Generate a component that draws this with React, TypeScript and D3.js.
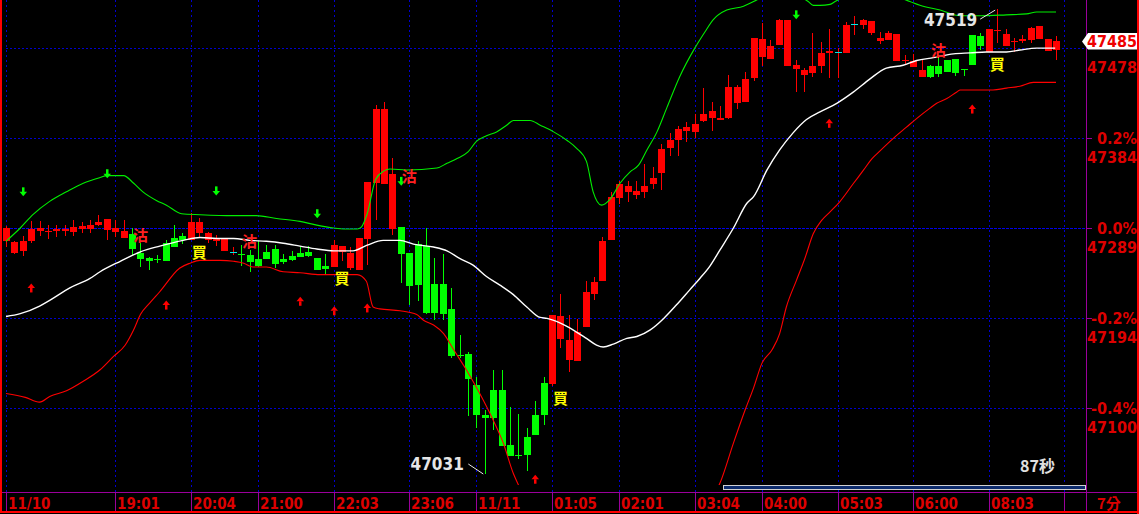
import React from "react";
import * as d3 from "d3";

// ---------- data ----------
const basePrice = 47289;
const pctTicks = [0.4, 0.2, 0, -0.2, -0.4];
const pctLabels = ["0.4%", "0.2%", "0.0%", "-0.2%", "-0.4%"];
const priceLabels = ["47478", "47384", "47289", "47194", "47100"];
const lastPriceLabel = "47485";

const timeTickIdx = [0, 13, 22, 30, 39, 48, 56, 65, 73, 82, 90, 99, 108, 117, 126];
const timeLabels = ["11/10", "19:01", "20:04", "21:00", "22:03", "23:06", "11/11", "01:05", "02:01", "03:04", "04:00", "05:03", "06:00", "08:03", ""];
const periodLabel = "7分";
const countdownLabel = "87秒";

const opens = [47275,47263,47265,47275,47286,47285,47286,47286,47285,47288,47288,47292,47287,47285,47279,47283,47263,47257,47256,47273,47278,47281,47276,47284,47276,47275,47265,47264,47262,47261,47256,47264,47267,47256,47260,47263,47264,47257,47249,47248,47264,47247,47245,47277,47336,47335,47288,47290,47263,47272,47270,47230,47230,47204,47156,47157,47124,47092,47119,47119,47061,47050,47069,47092,47126,47125,47172,47150,47149,47185,47220,47233,47276,47321,47327,47324,47327,47335,47347,47373,47381,47391,47390,47401,47405,47403,47405,47420,47421,47447,47469,47467,47481,47459,47456,47450,47452,47459,47473,47474,47473,47503,47502,47494,47486,47487,47464,47464,47458,47448,47459,47459,47466,47467,47456,47492,47491,47474,47496,47480,47484,47486,47487,47488,47475,47476];
const highs = [47291,47275,47281,47296,47296,47292,47292,47292,47297,47295,47297,47303,47298,47297,47297,47289,47273,47259,47261,47276,47292,47284,47305,47300,47285,47282,47278,47269,47271,47266,47275,47271,47271,47262,47265,47269,47270,47257,47262,47276,47270,47269,47278,47337,47418,47421,47363,47290,47263,47275,47289,47257,47262,47226,47177,47159,47132,47098,47140,47140,47101,47094,47079,47107,47132,47198,47220,47198,47193,47233,47238,47280,47327,47338,47338,47338,47356,47353,47377,47389,47396,47400,47409,47436,47421,47417,47450,47439,47453,47489,47504,47487,47509,47508,47466,47457,47494,47484,47498,47478,47505,47512,47509,47507,47495,47496,47493,47471,47472,47466,47460,47471,47466,47467,47456,47492,47494,47498,47519,47498,47489,47492,47500,47501,47488,47491];
const lows = [47269,47262,47260,47273,47281,47277,47280,47281,47281,47284,47284,47291,47276,47280,47279,47261,47248,47245,47252,47254,47269,47272,47276,47278,47273,47270,47265,47261,47249,47243,47248,47256,47247,47251,47254,47259,47258,47245,47240,47248,47254,47245,47245,47250,47297,47335,47282,47231,47208,47212,47199,47192,47192,47152,47152,47091,47079,47031,47077,47060,47049,47046,47034,47071,47082,47123,47163,47138,47149,47185,47213,47233,47276,47314,47316,47319,47321,47330,47329,47365,47365,47379,47384,47400,47391,47402,47404,47414,47421,47444,47459,47467,47481,47459,47432,47432,47448,47452,47447,47447,47473,47492,47498,47492,47482,47487,47464,47460,47458,47448,47447,47448,47453,47449,47449,47460,47476,47474,47483,47480,47474,47483,47483,47488,47475,47466];
const closes = [47289,47274,47275,47288,47289,47286,47288,47288,47290,47291,47292,47295,47298,47289,47286,47267,47256,47254,47255,47254,47269,47276,47295,47295,47284,47277,47278,47264,47261,47253,47249,47256,47251,47253,47255,47259,47260,47245,47246,47271,47270,47263,47278,47337,47414,47414,47346,47262,47228,47229,47200,47200,47199,47154,47154,47130,47092,47089,47089,47060,47049,47049,47050,47071,47092,47198,47196,47171,47180,47222,47232,47275,47322,47335,47333,47328,47333,47342,47372,47381,47393,47395,47398,47409,47412,47405,47437,47437,47446,47489,47488,47480,47508,47508,47460,47455,47459,47473,47475,47474,47502,47503,47508,47507,47489,47494,47493,47466,47465,47455,47448,47451,47453,47452,47455,47460,47480,47498,47497,47493,47486,47488,47499,47501,47488,47485];

// Bollinger bands: [candle index, price]
const upperBand: [number, number][] = [[0,47275],[1.7,47289],[3.2,47303],[5.2,47317],[7.2,47327],[9.2,47336],[11.2,47342],[12,47344],[14,47344],[15.2,47336],[16.3,47327],[17.9,47318],[19.1,47313],[20.9,47304],[23.1,47303],[27,47302],[29.8,47302],[32.2,47299],[35,47296],[37,47292],[39,47289],[40.2,47288],[41.8,47288],[42.3,47290],[43,47304],[44,47340],[45,47349],[45.7,47351],[47.7,47350],[51.3,47352],[52.5,47357],[53.7,47362],[55,47369],[56,47380],[57.2,47386],[58.4,47390],[59.6,47397],[60.4,47402],[62.4,47402],[63.6,47397],[65.2,47390],[66.8,47381],[67.9,47373],[69.1,47359],[69.9,47327],[70.9,47313],[71.9,47319],[73.1,47336],[74.3,47348],[75.3,47355],[76.3,47371],[77.5,47390],[78.7,47416],[80.2,47448],[82,47478],[83.2,47495],[84.2,47508],[85.8,47518],[87.8,47522],[89,47527],[91,47535],[93,47537],[95.5,47527],[96.1,47523],[96.9,47523],[98.1,47524],[98.7,47527],[100,47532],[103,47535],[106,47532],[107.6,47527],[108.8,47523],[111.2,47518],[113.6,47512],[116,47512],[119.1,47513],[121.5,47514],[122.7,47516],[125,47516]];
const midBand: [number, number][] = [[0,47196],[1.7,47199],[4,47207],[5.2,47213],[7.6,47226],[10,47236],[11.2,47243],[13.6,47254],[16,47264],[18.3,47270],[21.1,47276],[23.1,47279],[25.1,47278],[27.1,47278],[29,47276],[31,47275],[33,47273],[35,47270],[37,47267],[39,47265],[41.3,47265],[43,47271],[44.9,47276],[46.9,47276],[48.5,47272],[50.9,47269],[52.5,47265],[54,47257],[55.6,47250],[57.2,47238],[58.8,47229],[60.4,47219],[62,47206],[63.6,47195],[64.4,47194],[66,47189],[67.5,47182],[69.1,47173],[70.3,47166],[71.1,47164],[72.3,47167],[73.9,47173],[75.1,47175],[76.7,47182],[78.3,47194],[79.8,47208],[81.4,47224],[82.6,47236],[83.8,47249],[85,47266],[86.6,47289],[88.2,47315],[89,47322],[90.6,47350],[92.1,47371],[93.7,47389],[95.3,47403],[96.9,47411],[98.9,47420],[100.9,47432],[102.9,47446],[104.8,47457],[106.8,47460],[108.4,47465],[110.4,47468],[112.8,47472],[114.8,47473],[116.7,47474],[119.1,47474],[120.7,47476],[122.7,47478],[124.9,47478]];
const lowerBand: [number, number][] = [[0,47115],[2.3,47111],[4,47106],[5.2,47112],[7.2,47118],[9.2,47128],[11.2,47140],[12.8,47154],[14.2,47166],[15.2,47182],[16,47198],[17.1,47210],[18.3,47222],[20.7,47247],[21.9,47252],[23.1,47255],[25.5,47255],[27.1,47254],[28.3,47252],[29.4,47248],[31,47248],[33,47243],[35,47242],[37.4,47240],[41.8,47240],[42.9,47233],[43.7,47206],[44.5,47204],[46.9,47202],[48.9,47198],[49.7,47192],[50.9,47187],[52.1,47178],[53.3,47161],[54.8,47140],[56.4,47115],[58,47087],[59.2,47063],[60.4,47031],[60.9,47021],[62,47000],[66,46965],[72,46950],[78,46960],[83,46995],[85,47021],[86.6,47063],[88,47098],[89,47121],[90,47147],[91.2,47161],[92.1,47178],[92.9,47206],[94.1,47234],[95.1,47257],[96.1,47283],[97.1,47297],[98.1,47306],[99.2,47316],[100.9,47336],[102.1,47350],[103.1,47362],[103.8,47368],[105.6,47383],[107.2,47395],[108.4,47404],[110,47415],[110.8,47420],[112,47425],[113.2,47432],[113.6,47434],[117.5,47434],[119.1,47436],[120.7,47438],[122.3,47442],[125,47442]];

// signal markers: [candle index, price]
const sellArrows: [number, number][] = [[2,47327],[12,47346],[25,47328],[37,47304],[47,47338],[94,47513]];
const buyArrows: [number, number][] = [[3,47226],[19,47208],[35,47212],[39,47202],[43,47205],[63,47025],[98,47399],[115,47414]];
const buyMarks: [number, number][] = [[23,47264],[40,47236],[66,47110],[118,47461]];
const sellMarks: [number, number][] = [[16,47282],[29,47275],[48,47344],[111,47476]];

// ---------- style ----------
const RED = "#ff0000";
const GREEN = "#00ff00";
const CYAN = "#00e8e8";
const AXIS_RED = "#dd0000";
const PURPLE = "#9b009b";
const GRID = "#0000d0";
const FONT = '"DejaVu Sans Condensed", "DejaVu Sans", sans-serif';
const CJK = '"Noto Sans CJK TC", "Noto Sans CJK SC", sans-serif';

export default function App() {
  const W = 1139, H = 514;
  const plotL = 6, plotR = 1086, axisY = 492;
  const x = d3.scaleLinear().domain([0, opens.length - 1]).range([6, 1056]);
  const y = d3.scaleLinear().domain([basePrice * (1 - 0.004), basePrice * (1 + 0.004)]).range([408, 48]);
  const yPct = (p: number) => y(basePrice * (1 + p / 100));

  const line = d3.line<[number, number]>().x(d => x(d[0])).y(d => y(d[1])).curve(d3.curveMonotoneX);

  const lowIdx = d3.minIndex(lows);
  const highIdx = d3.maxIndex(highs);
  const xl = x(lowIdx), yl = y(lows[lowIdx]);
  const xh = x(highIdx), yh = y(highs[highIdx]);
  const lastY = y(closes[closes.length - 1]);

  return (
    <div style={{ position: "fixed", left: 0, top: 0, width: W, height: H, background: "#000" }}>
      <svg width={W} height={H} style={{ display: "block" }}>
        <defs>
          <clipPath id="plot">
            <rect x={2} y={0} width={plotR - 2} height={485} />
          </clipPath>
        </defs>
        <rect x={0} y={0} width={W} height={H} fill="#000" />

        {/* horizontal grid */}
        {pctTicks.map((p, k) => (
          <line key={"hg" + k} x1={plotL} x2={plotR} y1={Math.round(yPct(p)) + 0.5} y2={Math.round(yPct(p)) + 0.5}
            stroke={p === 0 ? "#0000e8" : GRID} strokeWidth={1} strokeDasharray={p === 0 ? "3,1" : "2,2"} />
        ))}
        {/* vertical grid */}
        {timeTickIdx.map((t, k) => (
          <line key={"vg" + k} x1={Math.round(x(t)) + 0.5} x2={Math.round(x(t)) + 0.5} y1={0} y2={axisY}
            stroke={GRID} strokeWidth={1} strokeDasharray="2,3" />
        ))}

        {/* candles */}
        <g clipPath="url(#plot)" shapeRendering="crispEdges">
          {opens.map((o, i) => {
            const c = closes[i];
            const col = c > o ? RED : c < o ? GREEN : CYAN;
            const cx = Math.round(x(i));
            const top = Math.round(y(Math.max(o, c)));
            const bot = Math.round(y(Math.min(o, c)));
            return (
              <g key={"c" + i}>
                <rect x={cx} y={Math.round(y(highs[i]))} width={1} height={Math.max(1, Math.round(y(lows[i])) - Math.round(y(highs[i])))}
                  fill={c === o ? RED : col} />
                <rect x={cx - 3} y={top} width={7} height={Math.max(1, bot - top)} fill={col} />
              </g>
            );
          })}
        </g>

        {/* bands */}
        <g clipPath="url(#plot)" fill="none">
          <path d={line(upperBand) || ""} stroke="#00ee00" strokeWidth={1.1} />
          <path d={line(midBand) || ""} stroke="#ffffff" strokeWidth={1.4} />
          <path d={line(lowerBand) || ""} stroke="#ff0000" strokeWidth={1.1} />
        </g>

        {/* arrows */}
        {sellArrows.map(([i, p], k) => {
          const cx = Math.round(x(i)), cy = y(p);
          return (
            <g key={"sa" + k} fill={GREEN}>
              <rect x={cx - 1} y={cy - 4.5} width={2.5} height={5} />
              <path d={`M${cx - 3.5},${cy} L${cx + 4},${cy} L${cx + 0.25},${cy + 4.5} Z`} />
            </g>
          );
        })}
        {buyArrows.map(([i, p], k) => {
          const cx = Math.round(x(i)), cy = y(p);
          return (
            <g key={"ba" + k} fill={RED}>
              <rect x={cx - 1} y={cy} width={2.5} height={4.5} />
              <path d={`M${cx - 3.5},${cy} L${cx + 4},${cy} L${cx + 0.25},${cy - 4.5} Z`} />
            </g>
          );
        })}

        {/* buy / sell marks */}
        {buyMarks.map(([i, p], k) => (
          <text key={"bm" + k} x={x(i)} y={y(p) + 6} textAnchor="middle" fontFamily={CJK} fontWeight="bold"
            fontSize={15} fill="#ffff00">買</text>
        ))}
        {sellMarks.map(([i, p], k) => (
          <text key={"sm" + k} x={x(i)} y={y(p) + 6} textAnchor="middle" fontFamily={CJK} fontWeight="bold"
            fontSize={15} fill="#ff2020">沽</text>
        ))}

        {/* high / low annotations */}
        <line x1={xl - 16.5} y1={yl - 9.5} x2={xl - 1.5} y2={yl + 0.5} stroke="#e8e8e8" strokeWidth={1} />
        <text x={xl - 21} y={yl - 4} textAnchor="end" fontFamily={FONT} fontWeight="bold" fontSize={17} fill="#e6e6e6">
          {String(lows[lowIdx])}
        </text>
        <line x1={xh - 17} y1={yh + 10} x2={xh - 2} y2={yh + 1} stroke="#e8e8e8" strokeWidth={1} />
        <text x={xh - 20} y={yh + 17} textAnchor="end" fontFamily={FONT} fontWeight="bold" fontSize={17} fill="#e6e6e6">
          {String(highs[highIdx])}
        </text>

        {/* countdown + progress bar */}
        <text x={1020} y={472} fontFamily={CJK} fontWeight="bold" fontSize={16} fill="#e0e0e0">{countdownLabel}</text>
        <rect x={723.5} y={485.5} width={362} height={4} fill="#0c2a6c" stroke="#d0d0d0" strokeWidth={1} />

        {/* frame */}
        <rect x={plotR} y={0} width={1} height={511} fill={PURPLE} />
        <rect x={0} y={axisY} width={1137} height={1} fill={PURPLE} />
        <rect x={0} y={0} width={2} height={513} fill={RED} />
        <rect x={1137} y={0} width={2} height={H} fill={RED} />
        <rect x={0} y={511} width={W} height={2} fill={RED} />

        {/* bottom axis */}
        {timeTickIdx.map((t, k) => (
          <g key={"bt" + k}>
            <rect x={Math.round(x(t))} y={axisY} width={1} height={19} fill={PURPLE} />
            <text x={Math.round(x(t)) + 2} y={509} fontFamily={FONT} fontWeight="bold" fontSize={15} fill={AXIS_RED}>
              {timeLabels[k]}
            </text>
          </g>
        ))}
        <text x={1097} y={509} fontFamily={CJK} fontWeight="bold" fontSize={15} fill={AXIS_RED}>{periodLabel}</text>

        {/* right axis */}
        {pctTicks.map((p, k) => {
          const yy = Math.round(yPct(p));
          const hidden = Math.abs(yy - lastY) < 12; // covered by the last-price tag
          return (
            <g key={"ra" + k}>
              <rect x={plotR} y={yy} width={6} height={1} fill={PURPLE} />
              {!hidden && (
                <text x={1137} y={yy + 6} textAnchor="end" fontFamily={FONT} fontWeight="bold" fontSize={16} fill={AXIS_RED}>
                  {pctLabels[k]}
                </text>
              )}
              <text x={1137} y={yy + 25} textAnchor="end" fontFamily={FONT} fontWeight="bold" fontSize={16} fill={AXIS_RED}>
                {priceLabels[k]}
              </text>
            </g>
          );
        })}

        {/* last price tag */}
        <path d={`M1082,${lastY} L1088,${lastY - 8.5} L1137,${lastY - 8.5} L1137,${lastY + 8} L1088,${lastY + 8} Z`} fill="#ffffff" />
        <text x={1112} y={lastY + 6} textAnchor="middle" fontFamily={FONT} fontWeight="bold" fontSize={16} fill="#ee0000">
          {lastPriceLabel}
        </text>
      </svg>
    </div>
  );
}
